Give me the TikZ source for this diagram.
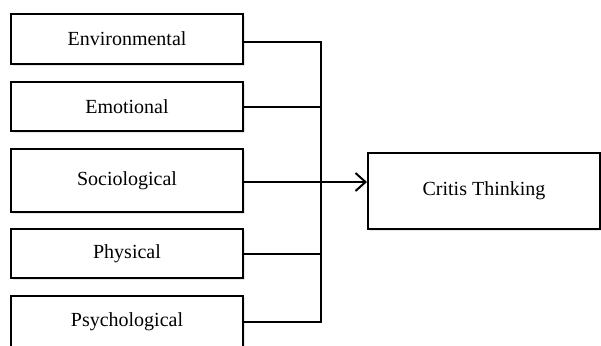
\documentclass[tikz,border=0pt]{standalone}
\usepackage{fontspec}
\setmainfont{Liberation Serif}
\usetikzlibrary{arrows.meta,shadows}

\tikzset{
    factor/.style={draw, line width=1pt, fill=white, minimum width=116pt, inner sep=0pt,
        drop shadow={opacity=0.2, shadow xshift=1pt, shadow yshift=-1pt}},
    link/.style={line width=1pt}
}

\begin{document}
\begin{tikzpicture}[x=0.5pt, y=-0.5pt]
    \clip (0,0) rectangle (601,345);
    \useasboundingbox (0,0) rectangle (601,345);
    \node[factor, minimum height=25pt] (env) at (127, 39) {Environmental};
    \node[factor, minimum height=24.5pt] (emo) at (127, 106.5) {Emotional};
    \node[factor, minimum height=31.5pt] (soc) at (127, 180.5) {Sociological};
    \node[factor, minimum height=24.5pt] (phy) at (127, 253.5) {Physical};
    \node[factor, minimum height=26pt] (psy) at (127, 322) {Psychological};
    \node[factor, minimum height=38pt] (ct) at (484, 191) {Critis Thinking};
    % join point on the bus
    \coordinate (top) at (321, 42);
    \coordinate (mid) at (321, 182);
    \draw [link] ([yshift=-1.5pt]env.east) -- (top) -- (mid |- psy.east) -- (psy.east);
    \draw [link] (emo.east) -- (mid |- emo.east);
    \draw [link] (phy.east) -- (mid |- phy.east);
    \draw [link] ([yshift=-0.75pt]soc.east) -- (mid);
    \draw [link, -{Straight Barb[length=5pt, width=9pt]}] (mid) -- (ct.west |- mid);
\end{tikzpicture}
\end{document}
